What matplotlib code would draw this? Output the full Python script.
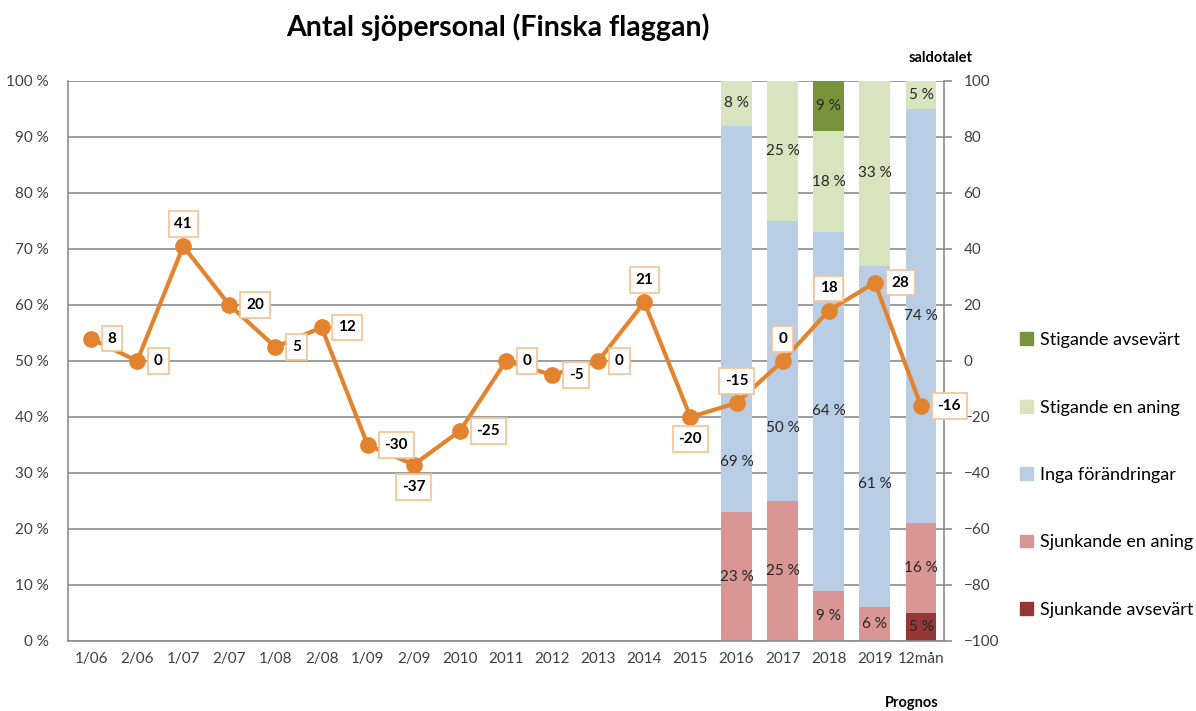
import matplotlib
matplotlib.use("Agg")
import matplotlib.pyplot as plt
from matplotlib.patches import Patch
import numpy as np

plt.rcParams["font.family"] = ["Lato", "DejaVu Sans"]

periods = ["1/06", "2/06", "1/07", "2/07", "1/08", "2/08", "1/09", "2/09", "2010",
           "2011", "2012", "2013", "2014", "2015", "2016", "2017", "2018", "2019", "12mån"]
saldo = [8, 0, 41, 20, 5, 12, -30, -37, -25, 0, -5, 0, 21, -20, -15, 0, 18, 28, -16]

# forecast columns (share of answers, %)
bar_periods = ["2016", "2017", "2018", "2019", "12mån"]
sjunk_avs = [0, 0, 0, 0, 5]
sjunk_lite = [23, 25, 9, 6, 16]
inga = [69, 50, 64, 61, 74]
stig_lite = [8, 25, 18, 33, 5]
stig_avs = [0, 0, 9, 0, 0]

# where each saldo label sits relative to its marker
label_pos = ["r", "r", "u", "r", "r", "r", "r", "d", "r", "r", "r", "r", "u",
             "d", "u", "u", "u", "r", "r"]
# a few bar labels pushed down so the line doesn't run over them
moved_labels = {("Inga förändringar", "2016"): 32,
                ("Inga förändringar", "2017"): 38,
                ("Inga förändringar", "2019"): 28}

C_LINE = "#E3832E"
series = [
    ("Sjunkande avsevärt", sjunk_avs, "#953735"),
    ("Sjunkande en aning", sjunk_lite, "#D99694"),
    ("Inga förändringar", inga, "#B9CDE5"),
    ("Stigande en aning", stig_lite, "#D7E4BD"),
    ("Stigande avsevärt", stig_avs, "#77933C"),
]

fig = plt.figure(figsize=(11.96, 7.11), dpi=100)
ax = fig.add_axes([68 / 1196, 70 / 711, 876 / 1196, 560 / 711])
x = np.arange(len(periods))
xb = np.array([periods.index(p) for p in bar_periods])

bottom = np.zeros(len(bar_periods))
for name, vals, col in series:
    vals = np.array(vals, dtype=float)
    ax.bar(xb, vals, bottom=bottom, width=0.67, color=col, zorder=2)
    for p, xi, b, v in zip(bar_periods, xb, bottom, vals):
        if v > 0:
            y = moved_labels.get((name, p), b + v / 2)
            ax.text(xi, y, f"{v:.0f} %", ha="center", va="center",
                    fontsize=11, color="#262626", zorder=3)
    bottom += vals

ax.set_xlim(-0.5, len(periods) - 0.5)
ax.set_ylim(0, 100)
ax.set_yticks(range(0, 101, 10))
ax.set_yticklabels([f"{v} %" for v in range(0, 101, 10)])
ax.set_xticks(x)
ax.set_xticklabels(periods)
ax.tick_params(axis="both", length=0, labelsize=11, colors="#404040", pad=8)
ax.tick_params(axis="y", pad=14)
ax.grid(axis="y", color="#8C8C8C", lw=1.2, zorder=0)
ax.set_axisbelow(True)
for s in ["top", "right"]:
    ax.spines[s].set_visible(False)
for s in ["left", "bottom"]:
    ax.spines[s].set_color("#8C8C8C")
    ax.spines[s].set_linewidth(1.2)

ax2 = ax.twinx()
ax2.plot(x, saldo, color=C_LINE, lw=3, marker="o", ms=11, zorder=4)
ax2.set_ylim(-100, 100)
ax2.set_yticks(range(-100, 101, 20))
ax2.tick_params(axis="y", length=6, width=1.2, color="#8C8C8C", labelsize=11,
                labelcolor="#404040", pad=8)
for s in ["top", "left", "bottom"]:
    ax2.spines[s].set_visible(False)
ax2.spines["right"].set_color("#8C8C8C")
ax2.spines["right"].set_linewidth(1.2)

offsets = {"r": (12, 0, "left", "center"), "u": (0, 16, "center", "center"),
           "d": (0, -16, "center", "center")}
for xi, v, p in zip(x, saldo, label_pos):
    dx, dy, ha, va = offsets[p]
    ax2.annotate(str(v), (xi, v), xytext=(dx, dy), textcoords="offset points",
                 ha=ha, va=va, fontsize=11, fontweight="bold", color="black",
                 bbox=dict(boxstyle="square,pad=0.38", fc="white", ec="#FAC090", lw=1.2),
                 zorder=5)

handles = [Patch(color=col, label=name) for name, _, col in reversed(series)]
fig.legend(handles=handles, loc="center left",
           bbox_to_anchor=(1004 / 1196, 1 - 475 / 711),
           frameon=False, fontsize=13, labelspacing=2.85, handlelength=0.7,
           handleheight=0.7, handletextpad=0.4)

fig.text(498 / 1196, 1 - 27 / 711, "Antal sjöpersonal (Finska flaggan)", ha="center",
         va="center", fontsize=20.5, fontweight="bold")
fig.text(941 / 1196, 1 - 58 / 711, "saldotalet", ha="center", va="center",
         fontsize=10.5, fontweight="bold")
fig.text(912 / 1196, 1 - 703 / 711, "Prognos", ha="center", va="center",
         fontsize=10.5, fontweight="bold")

fig.savefig("out.png", dpi=100)
